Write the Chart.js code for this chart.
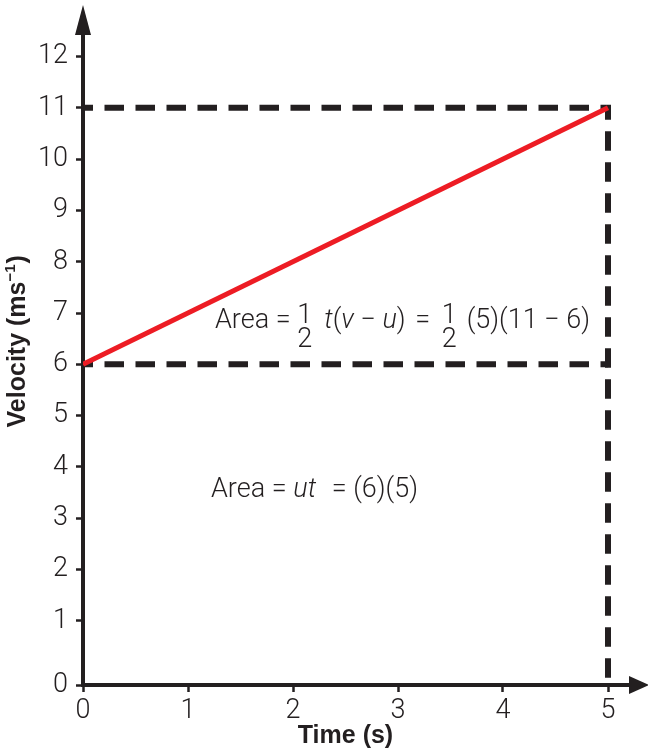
<!DOCTYPE html>
<html><head><meta charset="utf-8">
<script src="https://cdn.jsdelivr.net/npm/chart.js@4/dist/chart.umd.min.js"></script>
<style>html,body{margin:0;padding:0;background:#fff;}canvas{display:block;}</style>
</head><body>
<canvas id="c" width="648" height="749"></canvas>
<script>
// ---- data ----
const X_TICKS = [0, 1, 2, 3, 4, 5];
const Y_TICKS = [0, 1, 2, 3, 4, 5, 6, 7, 8, 9, 10, 11, 12];
const TIME = [0, 5];            // s
const VELOCITY = [6, 11];       // m/s
const INITIAL_V = 6;
const FINAL_V = 11;
const FINAL_T = 5;
// In the reference the "0" tick of the velocity axis sits on the time axis,
// a quarter step below where 0 would fall on the evenly spaced scale.
const Y_AXIS_FLOOR = -0.25;
const X_TITLE = 'Time (s)';
const Y_TITLE = ['Velocity (ms', '−1', ')'];
const NOTE_TRIANGLE = [{t:'Area = '}, {frac:['1','2']}, {gap:12}, {t:'t',i:1}, {t:'('}, {t:'v',i:1}, {t:' − '}, {t:'u',i:1}, {t:')'}, {gap:3}, {t:' = '}, {gap:5}, {frac:['1','2']}, {gap:10}, {t:'(5)(11 − 6)'}];
const NOTE_RECT = [{t:'Area = '}, {t:'ut',i:1}, {gap:9}, {t:' = (6)(5)'}];

const yv = v => (v === 0 ? Y_AXIS_FLOOR : v);

// ---- styles ----
const INK = '#231f20';
const RED = '#ed1c24';
const FONT = 'Roboto, "Liberation Sans", Arial, sans-serif';
const TITLE_FONT = '"Liberation Sans", Arial, sans-serif';

const decor = {
  id: 'decor',
  afterDraw(chart) {
    const ctx = chart.ctx, a = chart.chartArea;
    const xs = chart.scales.x, ys = chart.scales.y;
    ctx.save();
    ctx.fillStyle = INK;
    // arrow heads
    ctx.beginPath();
    ctx.moveTo(xs.getPixelForValue(0), a.top - 30);
    ctx.lineTo(xs.getPixelForValue(0) - 8, a.top);
    ctx.lineTo(xs.getPixelForValue(0) + 8, a.top);
    ctx.closePath(); ctx.fill();
    ctx.beginPath();
    ctx.moveTo(a.right + 20, a.bottom);
    ctx.lineTo(a.right, a.bottom - 9);
    ctx.lineTo(a.right, a.bottom + 9);
    ctx.closePath(); ctx.fill();

    // x title
    ctx.font = 'normal bold 25px ' + TITLE_FONT;
    ctx.textAlign = 'center';
    ctx.textBaseline = 'alphabetic';
    ctx.fillText(X_TITLE, xs.getPixelForValue(2.5), 743);

    // y title (rotated, with superscript)
    ctx.save();
    ctx.translate(25, ys.getPixelForValue(6.45));
    ctx.rotate(-Math.PI / 2);
    ctx.textAlign = 'left';
    const big = 'normal bold 25px ' + TITLE_FONT, small = 'normal bold 15px ' + TITLE_FONT;
    ctx.font = big; const w0 = ctx.measureText(Y_TITLE[0]).width, w2 = ctx.measureText(Y_TITLE[2]).width;
    ctx.font = small; const w1 = ctx.measureText(Y_TITLE[1]).width;
    let x = -(w0 + w1 + w2 + 1) / 2;
    ctx.font = big; ctx.fillText(Y_TITLE[0], x, 0); x += w0;
    ctx.font = small; ctx.fillText(Y_TITLE[1], x, -10); x += w1 + 1;
    ctx.font = big; ctx.fillText(Y_TITLE[2], x, 0);
    ctx.restore();

    // notes
    const run = (segs, x, base, size) => {
      ctx.textAlign = 'left';
      for (const s of segs) {
        if (s.gap) { x += s.gap; continue; }
        if (s.frac) {
          ctx.font = `300 ${size}px ${FONT}`;
          const w = Math.max(ctx.measureText(s.frac[0]).width, ctx.measureText(s.frac[1]).width);
          ctx.textAlign = 'center';
          ctx.fillText(s.frac[0], x + w / 2, base - 5);
          ctx.fillText(s.frac[1], x + w / 2, base + 19);
          ctx.textAlign = 'left';
          x += w; continue;
        }
        ctx.font = `${s.i ? 'italic ' : ''}300 ${size}px ${FONT}`;
        ctx.fillText(s.t, x, base);
        x += ctx.measureText(s.t).width;
      }
    };
    run(NOTE_TRIANGLE, xs.getPixelForValue(1.257), ys.getPixelForValue(6.713), 27);
    run(NOTE_RECT, xs.getPixelForValue(1.219), ys.getPixelForValue(3.42), 27);
    ctx.restore();
  }
};

const dashed = {
  borderColor: INK, borderWidth: 6, borderDash: [19.5, 11.5], borderDashOffset: 9.5,
  pointRadius: 0, fill: false, tension: 0, borderCapStyle: 'butt', borderJoinStyle: 'miter'
};

new Chart(document.getElementById('c'), {
  type: 'scatter',
  data: {
    datasets: [
      Object.assign({ showLine: true, order: 3,
        data: [{x: TIME[0], y: FINAL_V}, {x: FINAL_T, y: FINAL_V}, {x: FINAL_T, y: yv(0)}] }, dashed),
      Object.assign({ showLine: true, order: 2,
        data: [{x: TIME[0], y: INITIAL_V}, {x: FINAL_T, y: INITIAL_V}] }, dashed),
      { showLine: true, order: 1, borderColor: RED, borderWidth: 5, pointRadius: 0,
        borderCapStyle: 'butt',
        data: TIME.map((t, i) => ({x: t, y: VELOCITY[i]})) }
    ]
  },
  options: {
    responsive: false, animation: false, devicePixelRatio: 1,
    layout: { padding: { top: 35, right: 19, left: 0, bottom: 0 } },
    plugins: { legend: { display: false }, tooltip: { enabled: false }, title: { display: false } },
    scales: {
      x: {
        type: 'linear', min: 0, max: 5.2,
        afterBuildTicks: s => { s.ticks = X_TICKS.map(v => ({value: v})); },
        afterFit: s => { s.height = 64; },
        border: { display: true, color: INK, width: 4 },
        grid: { drawOnChartArea: false, drawTicks: true, tickLength: 7, tickWidth: 2.5, tickColor: INK },
        ticks: { color: INK, padding: 3, maxRotation: 0, font: { family: FONT, weight: '300', size: 27 },
                 callback: (v, i) => String(X_TICKS[i]) }
      },
      y: {
        type: 'linear', min: Y_AXIS_FLOOR, max: 12.42,
        afterBuildTicks: s => { s.ticks = Y_TICKS.map(v => ({value: yv(v)})); },
        afterFit: s => { s.width = 83; },
        border: { display: true, color: INK, width: 4 },
        grid: { drawOnChartArea: false, drawTicks: true, tickLength: 7, tickWidth: 2.5, tickColor: INK },
        ticks: { color: INK, padding: 8, font: { family: FONT, weight: '300', size: 27 },
                 callback: (v, i) => String(Y_TICKS[i]) }
      }
    }
  },
  plugins: [decor]
});
</script>
</body></html>
